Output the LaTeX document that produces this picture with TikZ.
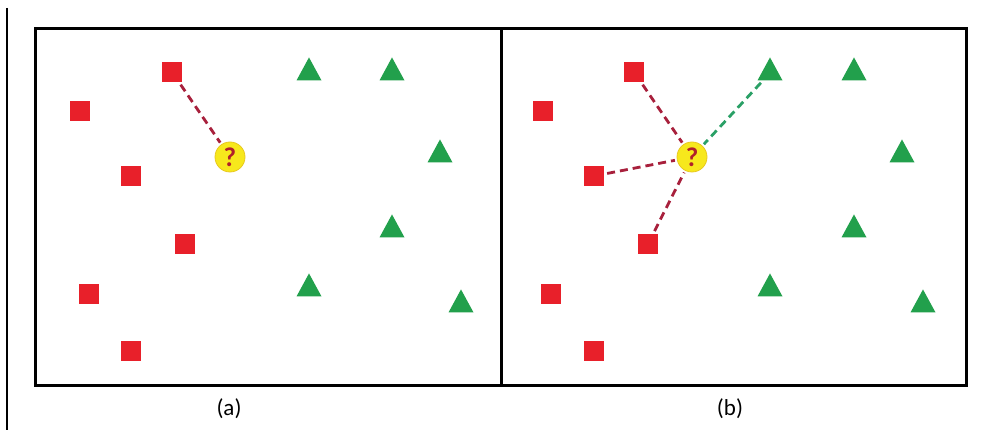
\documentclass[tikz,border=0pt]{standalone}
\usepackage{fontspec}
\setmainfont{Carlito}
\usetikzlibrary{shapes.geometric}
\definecolor{sqred}{HTML}{E8202A}
\definecolor{trigreen}{HTML}{22A04C}
\definecolor{linered}{HTML}{A8203C}
\definecolor{linegreen}{HTML}{2AA066}
\definecolor{qyellow}{HTML}{F7E81C}
\definecolor{qedge}{HTML}{E8C820}
\definecolor{qtext}{HTML}{B0202A}
\tikzset{
  sq/.style={rectangle, fill=sqred, minimum size=20pt, inner sep=0pt},
  tri/.style={isosceles triangle, isosceles triangle apex angle=58, shape border rotate=90, fill=trigreen, minimum height=23pt, minimum width=25pt, inner sep=0pt, isosceles triangle stretches},
  qm/.style={circle, fill=qyellow, draw=qedge, line width=0.8pt, minimum size=30pt, inner sep=0pt, font=\bfseries\fontsize{27}{27}\selectfont, text=qtext},
  redlink/.style={draw=linered, line width=2.8pt, dash pattern=on 8pt off 5pt, shorten <=3pt, shorten >=2pt},
  greenlink/.style={draw=linegreen, line width=2.8pt, dash pattern=on 8pt off 5pt, shorten <=3pt, shorten >=2pt},
  frame/.style={draw=black, line width=3pt},
  lbl/.style={font=\fontsize{23}{23}\selectfont}
}
\begin{document}
\begin{tikzpicture}[x=1pt,y=-1pt]
\useasboundingbox (0,0) rectangle (986,430);
\fill[white] (0,0) rectangle (986,430);
\draw[line width=2pt] (7,8) -- (7,430);
\draw[frame] (35,29) rectangle (966,386);
\draw[frame] (501,29) -- (501,386);
% panel (a)
\node[sq] (a1) at (172,72) {};
\node[sq] (a2) at (80,111) {};
\node[sq] (a3) at (131,176) {};
\node[sq] (a4) at (185,244) {};
\node[sq] (a5) at (89,294) {};
\node[sq] (a6) at (131,351) {};
\node[tri] (at1) at (309,73) {};
\node[tri] (at2) at (392,73) {};
\node[tri] (at3) at (440,155) {};
\node[tri] (at4) at (392,230) {};
\node[tri] (at5) at (309,289) {};
\node[tri] (at6) at (461,305) {};
\node[qm] (aq) at (230,157) {?};
\draw[redlink] (a1) -- (aq);
% panel (b)
\node[sq] (b1) at (634,72) {};
\node[sq] (b2) at (543,111) {};
\node[sq] (b3) at (594,176) {};
\node[sq] (b4) at (648,244) {};
\node[sq] (b5) at (551,294) {};
\node[sq] (b6) at (594,351) {};
\node[tri] (bt1) at (770,73) {};
\node[tri] (bt2) at (854,73) {};
\node[tri] (bt3) at (902,155) {};
\node[tri] (bt4) at (854,230) {};
\node[tri] (bt5) at (770,289) {};
\node[tri] (bt6) at (923,305) {};
\node[qm] (bq) at (692,157) {?};
\draw[redlink] (b1) -- (bq);
\draw[redlink] (b3) -- (bq);
\draw[redlink] (b4) -- (bq);
\draw[greenlink] (bt1) -- (bq);
% labels
\node[lbl] (la) at (229,409) {(a)};
\node[lbl] (lb) at (730,409) {(b)};
\end{tikzpicture}
\end{document}
